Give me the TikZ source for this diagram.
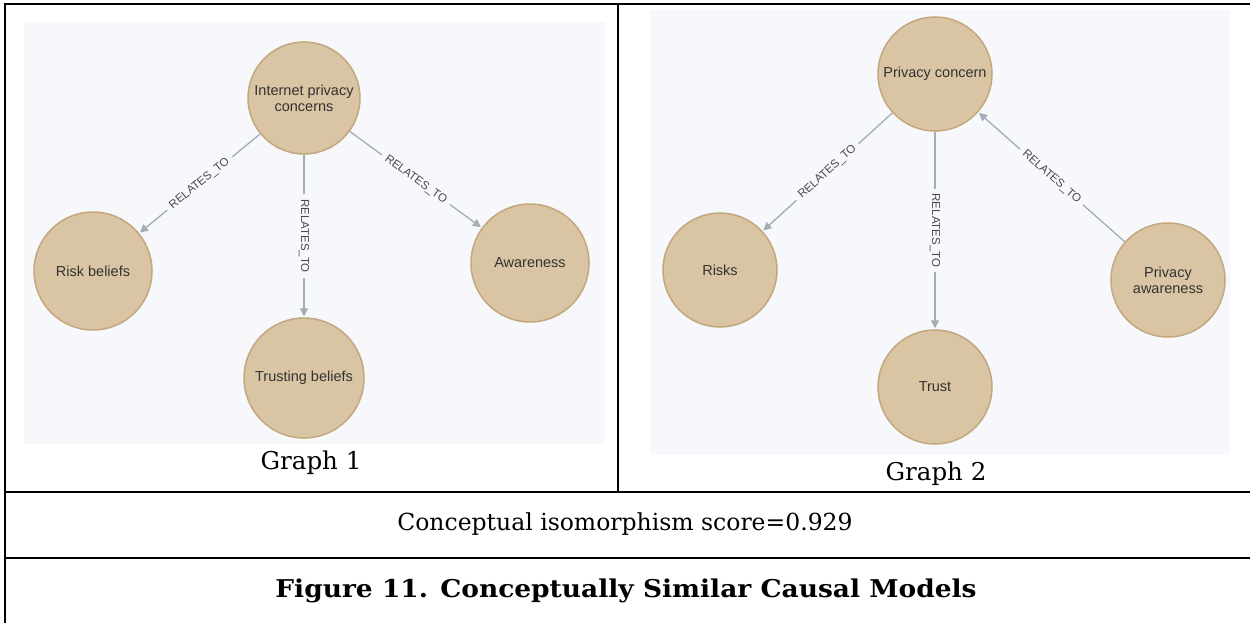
\documentclass[tikz,border=0pt]{standalone}
\usepackage{fontspec}
\setmainfont{DejaVu Serif}
\newfontfamily\nodefont{Liberation Sans}
\usetikzlibrary{arrows.meta}
\definecolor{bgc}{HTML}{F6F8FC}
\definecolor{nodefill}{HTML}{D9C4A3}
\definecolor{nodeline}{HTML}{C4A77C}
\definecolor{edgec}{HTML}{A5ABB6}
\definecolor{ntext}{HTML}{333333}
\definecolor{ltext}{HTML}{4A4A4A}
\tikzset{
  concept/.style={circle, fill=nodefill, draw=nodeline, line width=1.5pt,
    minimum size=#1, inner sep=0pt, align=center, text=ntext,
    font=\nodefont\fontsize{14.5}{16}\selectfont},
  concept/.default=116pt,
  rel/.style={draw=edgec, line width=1.3pt, -{Triangle[length=8pt,width=8pt]}, shorten >=1pt},
  rellabel/.style={fill=bgc, inner xsep=5pt, inner ysep=1pt, text=ltext,
    font=\nodefont\fontsize{11.5}{12}\selectfont},
  framebar/.style={line width=2.5pt, black},
  captext/.style={font=\fontsize{23.5}{26}\selectfont, inner sep=0pt},
}
\begin{document}
\begin{tikzpicture}[x=1pt, y=-1pt]
\useasboundingbox (0,0) rectangle (1250,623);
\fill[white] (0,0) rectangle (1250,623);
% backgrounds
\fill[bgc] (24,22) rectangle (605,444);
\fill[bgc] (650,10) rectangle (1230,455);
% Graph 1
\node[concept=112pt] (ipc) at (304,98) {Internet privacy\\concerns};
\node[concept=118pt] (rb) at (93,271) {Risk beliefs};
\node[concept=120pt] (tb) at (304,378) {Trusting beliefs};
\node[concept=118pt] (aw) at (530,263) {Awareness};
\draw[rel] (ipc) -- node[rellabel, sloped] {RELATES\_TO} (rb);
\draw[rel] (ipc) -- node[rellabel, rotate=-90] {RELATES\_TO} (tb);
\draw[rel] (ipc) -- node[rellabel, sloped] {RELATES\_TO} (aw);
% Graph 2
\node[concept=114pt] (pc) at (935,74) {Privacy concern};
\node[concept=114pt] (rk) at (720,270) {Risks};
\node[concept=114pt] (tr) at (935,387) {Trust};
\node[concept=114pt] (pa) at (1168,280) {Privacy\\awareness};
\draw[rel] (pc) -- node[rellabel, sloped] {RELATES\_TO} (rk);
\draw[rel] (pc) -- node[rellabel, rotate=-90] {RELATES\_TO} (tr);
\draw[rel] (pa) -- node[rellabel, sloped] {RELATES\_TO} (pc);
% frame
\coordinate (tl) at (5,4);
\coordinate (tr0) at (1250,4);
\coordinate (bl) at (5,623);
\coordinate (dt) at (617.5,4);
\coordinate (db) at (617.5,492);
\coordinate (l1a) at (5,492);
\coordinate (l1b) at (1250,492);
\coordinate (l2a) at (5,558);
\coordinate (l2b) at (1250,558);
\draw[framebar] (tr0) -- (tl) -- (bl);
\draw[framebar, line width=2pt] (dt) -- (db);
\draw[framebar] (l1a) -- (l1b);
\draw[framebar] (l2a) -- (l2b);
% captions
\node[captext, font=\fontsize{24.5}{26}\selectfont] (g1) at (311,463) {Graph 1};
\node[captext, font=\fontsize{24.5}{26}\selectfont] (g2) at (936,474) {Graph 2};
\node[captext] (score) at (625,524) {Conceptual isomorphism score=0.929};
\node[captext, font=\fontsize{24.5}{26}\selectfont\bfseries, xscale=1.08] (fig) at (626,591) {Figure 11. Conceptually Similar Causal Models};
\end{tikzpicture}
\end{document}
